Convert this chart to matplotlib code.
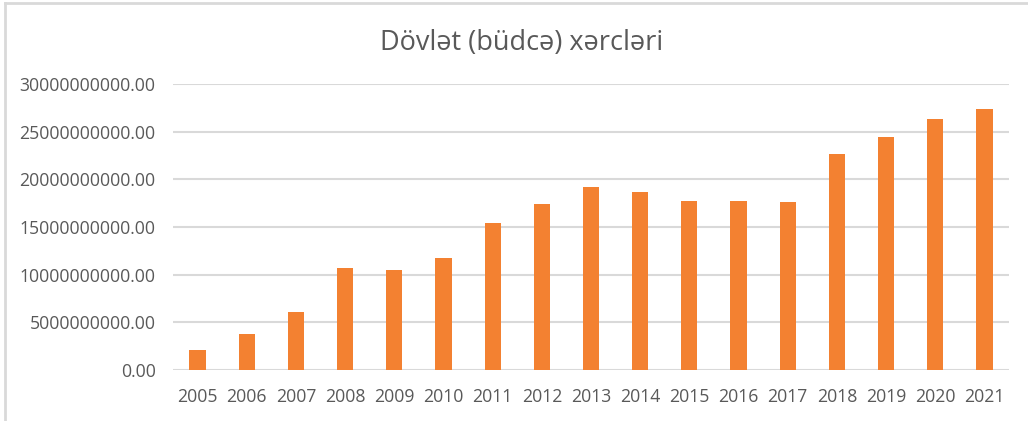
import matplotlib.pyplot as plt
from matplotlib.ticker import FuncFormatter, MultipleLocator
from matplotlib.lines import Line2D

years = [str(y) for y in range(2005, 2022)]
spending = [2.1e9, 3.75e9, 6.05e9, 10.7e9, 10.5e9, 11.7e9, 15.4e9, 17.4e9, 19.2e9,
            18.7e9, 17.7e9, 17.7e9, 17.6e9, 22.7e9, 24.4e9, 26.3e9, 27.4e9]
title = "Dövlət (büdcə) xərcləri"

plt.rcParams['font.family'] = ['Open Sans', 'DejaVu Sans']
txt = '#595959'
grid = '#D9D9D9'

fig = plt.figure(figsize=(10.28, 4.21), dpi=100)
ax = fig.add_axes([173/1028, 1 - 370/421, (1009 - 173)/1028, (370 - 84)/421])

x = range(len(years))
ax.bar(x, spending, width=0.33, color='#F38131', zorder=3)

ax.set_xlim(-0.5, len(years) - 0.5)
ax.set_ylim(0, 30e9)
ax.yaxis.set_major_locator(MultipleLocator(5e9))
ax.yaxis.set_major_formatter(FuncFormatter(lambda v, p: f"{v:.2f}"))
ax.set_xticks(list(x))
ax.set_xticklabels(years)
ax.grid(axis='y', color=grid, lw=1.5, zorder=0)
for s in ax.spines.values():
    s.set_visible(False)
ax.tick_params(length=0, colors=txt, labelsize=12.7)
ax.tick_params(axis='y', pad=12.5)
ax.tick_params(axis='x', pad=13)

fig.text(522/1028, 1 - 43/421, title, ha='center', va='center', fontsize=19.5, color=txt)

# chart frame (top and left edges visible)
fig.add_artist(Line2D([5/1028, 1], [1 - 2.5/421, 1 - 2.5/421], color=grid, lw=2))
fig.add_artist(Line2D([5/1028, 5/1028], [0, 1 - 2.5/421], color=grid, lw=2))

fig.savefig('out.png', dpi=100, facecolor='white')
